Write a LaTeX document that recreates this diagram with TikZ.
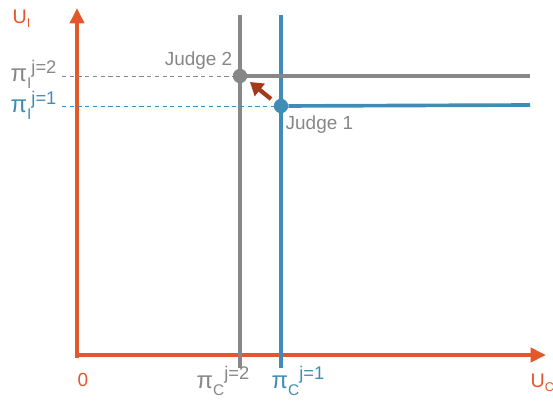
\documentclass[tikz,border=0pt]{standalone}
\usepackage{fontspec}
\setmainfont{Liberation Sans}
\usetikzlibrary{arrows.meta}
\definecolor{axisorange}{HTML}{E2582A}
\definecolor{judgegray}{HTML}{878787}
\definecolor{judgeblue}{HTML}{3F8DB6}
\definecolor{movered}{HTML}{A6391B}
\tikzset{
  axis/.style={line width=3.2pt, axisorange, -{Triangle[length=11pt,width=10pt]}},
  posline/.style={line width=2.6pt},
  guide/.style={line width=0.6pt, dash pattern=on 3pt off 2.5pt},
  dot/.style={circle, fill, inner sep=0pt, minimum size=10pt},
  lbl/.style={font=\fontsize{13.5}{15}\selectfont, inner sep=1pt},
  ulbl/.style={font=\fontsize{14}{16}\selectfont, inner sep=1pt, axisorange},
  pilbl/.style={font=\fontsize{17}{19}\selectfont, inner sep=1pt}
}
\newcommand{\pilabel}[2]{π\raisebox{-0.5ex}{\fontsize{11}{11}\selectfont #1}\raisebox{0.7ex}{\fontsize{13}{13}\selectfont j=#2}}
\begin{document}
\begin{tikzpicture}[x=0.025cm, y=-0.025cm]
    \useasboundingbox (0,0) rectangle (553,408);

    % Axes
    \coordinate (O) at (77,355);
    \coordinate (ytop) at (77,8);
    \coordinate (xend) at (546,355);
    \draw[axis, line cap=rect] (77,356) -- (ytop);
    \draw[axis] (75,355) -- (xend);

    % Judge points
    \node[dot, judgegray] (j2) at (240,76) {};
    \node[dot, judgeblue] (j1) at (281,106) {};

    % Vertical lines
    \coordinate (g top) at (240,15);
    \coordinate (g bot) at (240,368);
    \coordinate (b top) at (281,15);
    \coordinate (b bot) at (281,368);
    \draw[posline, judgegray] (g top) -- (g bot);
    \draw[posline, judgeblue] (b top) -- (b bot);

    % Horizontal lines
    \coordinate (g right) at (530,76);
    \coordinate (b right) at (530,105);
    \draw[posline, judgegray] (j2) -- (g right);
    \draw[posline, judgeblue] (j1) -- (b right);

    % Dashed guides
    \coordinate (g left) at (62,76);
    \coordinate (b left) at (62,106);
    \draw[guide, judgegray] (g left) -- (j2);
    \draw[guide, judgeblue] (b left) -- (j1);
    \node[dot, judgegray] at (j2) {};
    \node[dot, judgeblue] at (j1) {};

    % Move from judge 1 to judge 2
    \coordinate (mv start) at (271,99);
    \coordinate (mv end) at (250,82);
    \draw[movered, line width=3pt, -{Triangle[length=9pt,width=11pt]}] (mv start) -- (mv end);

    % Labels
    \node[lbl, judgegray, anchor=south east] (lj2) at (234,71) {Judge 2};
    \node[lbl, judgegray, anchor=north west] (lj1) at (284,114) {Judge 1};
    \node[ulbl, anchor=west] (ui) at (11,19) {U\raisebox{-0.4ex}{\fontsize{9}{9}\selectfont I}};
    \node[ulbl, anchor=west] (uc) at (529,383) {U\raisebox{-0.4ex}{\fontsize{9}{9}\selectfont C}};
    \node[lbl, axisorange] (zero) at (83,380) {0};
    \node[pilbl, judgegray, anchor=west] (pii2) at (9,74) {\pilabel{I}{2}};
    \node[pilbl, judgeblue, anchor=west] (pii1) at (9,105) {\pilabel{I}{1}};
    \node[pilbl, judgegray, anchor=west] (pic2) at (195,381) {\pilabel{C}{2}};
    \node[pilbl, judgeblue, anchor=west] (pic1) at (270,381) {\pilabel{C}{1}};

\end{tikzpicture}
\end{document}
